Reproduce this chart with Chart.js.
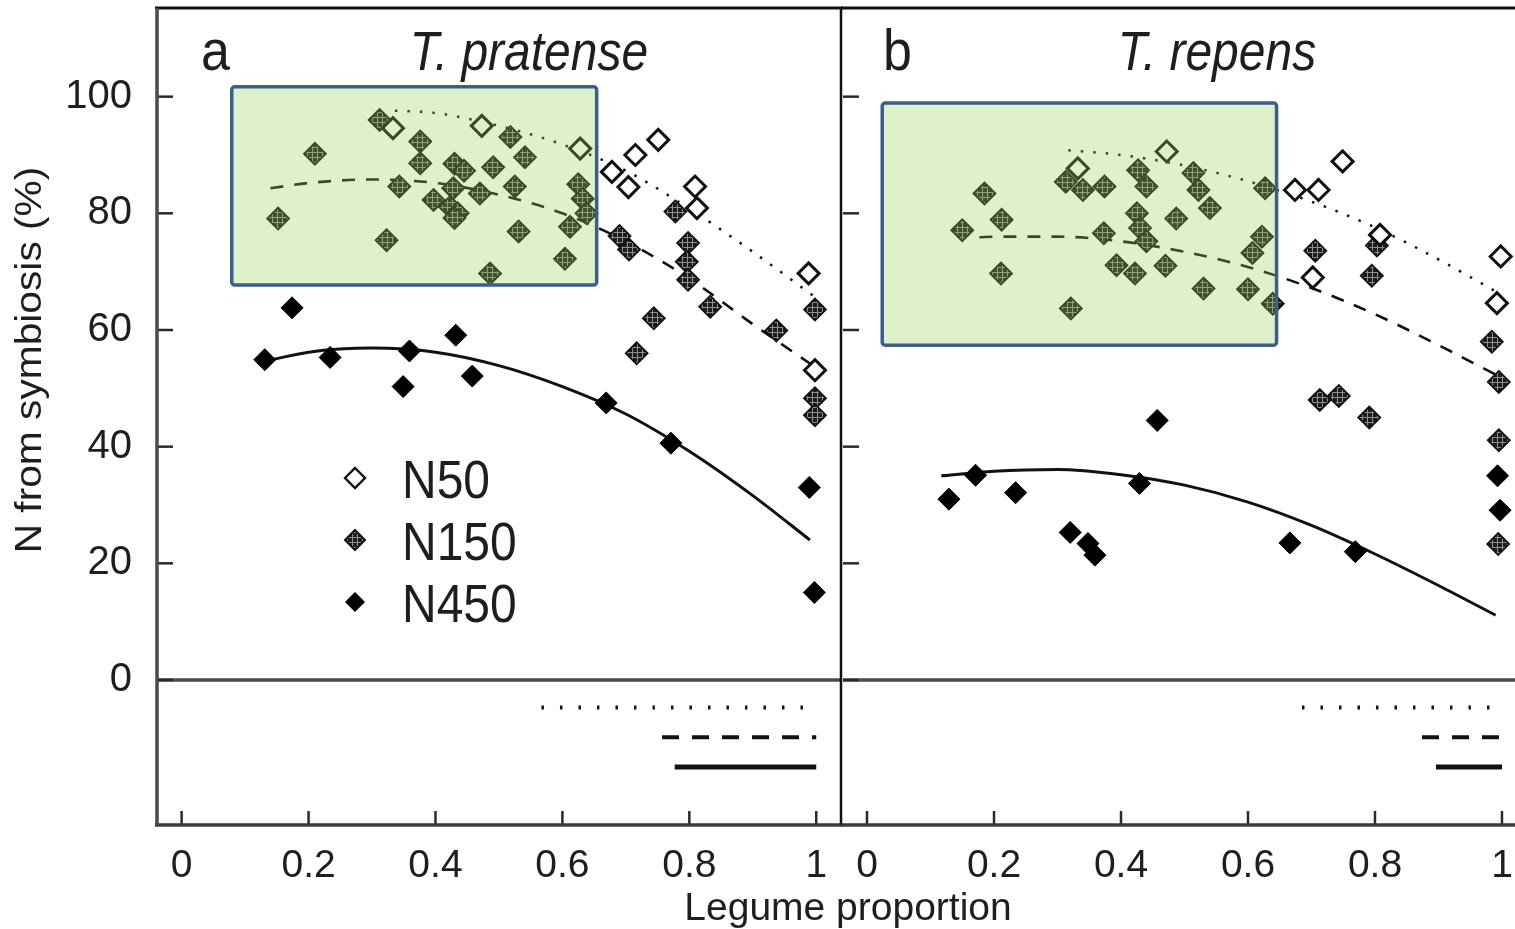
<!DOCTYPE html>
<html>
<head>
<meta charset="utf-8">
<title>N from symbiosis</title>
<script src="https://cdn.jsdelivr.net/npm/chart.js@4.4.1/dist/chart.umd.min.js"></script>
<style>
  html, body { margin: 0; padding: 0; background: #fff; overflow: hidden; }
  .layer { position: absolute; left: 0; top: 0; }
</style>
</head>
<body>
<div class="layer"><canvas id="chartA" width="1515" height="929"></canvas></div>
<div class="layer"><canvas id="chartB" width="1515" height="929"></canvas></div>
<script>
// axis ticks and series names
const xTicks = [0, 0.2, 0.4, 0.6, 0.8, 1];
const yTicks = [0, 20, 40, 60, 80, 100];
const seriesNames = ['N50', 'N150', 'N450'];

// panel a - T. pratense (legume proportion vs % N from symbiosis)
const aN50x = [0.333, 0.473, 0.628, 0.678, 0.704, 0.715, 0.751, 0.809, 0.812, 0.988, 0.998];
const aN50y = [94.6, 95.0, 91.1, 87.1, 84.5, 90.0, 92.6, 84.6, 80.9, 69.7, 53.1];
const aN150x = [0.152, 0.210, 0.312, 0.323, 0.343, 0.376, 0.376, 0.397, 0.423, 0.428, 0.430, 0.445, 0.435, 0.430, 0.470,
  0.491, 0.486, 0.518, 0.541, 0.525, 0.531, 0.604, 0.612, 0.625, 0.632, 0.638, 0.690, 0.705, 0.717, 0.744,
  0.778, 0.798, 0.796, 0.798, 0.833, 0.937, 0.998, 0.998, 0.998];
const aN150y = [79.1, 90.2, 96.0, 75.4, 84.6, 92.3, 88.6, 82.3, 81.1, 84.3, 88.5, 87.3, 80.0, 79.2, 83.4,
  87.9, 69.7, 93.1, 89.6, 84.6, 76.9, 72.2, 77.7, 85.0, 82.5, 80.0, 76.1, 73.8, 56.0, 62.0,
  80.3, 74.9, 71.7, 68.6, 64.0, 59.9, 63.5, 48.3, 45.4];
const aN450x = [0.131, 0.174, 0.234, 0.349, 0.359, 0.432, 0.458, 0.669, 0.771, 0.989, 0.997];
const aN450y = [54.9, 63.8, 55.3, 50.3, 56.4, 59.1, 52.1, 47.5, 40.6, 33.0, 15.0];
// fitted curves
const aFit50x = [0.336, 0.4, 0.5, 0.6, 0.7, 0.8, 0.9, 1.0];
const aFit50 = [97.6, 97.2, 95.0, 91.8, 87.3, 80.8, 73.4, 65.5];
const aFit150x = [0.14, 0.2, 0.3, 0.4, 0.5, 0.6, 0.7, 0.8, 0.9, 1.0];
const aFit150 = [84.3, 85.2, 85.8, 85.2, 83.2, 80.0, 75.2, 68.8, 61.0, 53.5];
const aFit450x = [0.13, 0.2, 0.3, 0.4, 0.5, 0.6, 0.7, 0.8, 0.9, 0.99];
const aFit450 = [54.6, 56.2, 56.9, 56.2, 53.9, 50.3, 45.6, 39.2, 31.6, 24.0];
// significance ranges (N50, N150, N450)
const aSigX = [[0.567, 1.0], [0.757, 1.0], [0.777, 1.0]];
// highlighted box [xmin, xmax, ymin, ymax]
const aBox = [0.079, 0.654, 67.7, 101.7];

// panel b - T. repens
const bN50x = [0.332, 0.472, 0.674, 0.711, 0.749, 0.702, 0.808, 0.998, 0.992];
const bN50y = [87.7, 90.6, 84.0, 84.0, 88.9, 69.0, 76.3, 72.6, 64.6];
const bN150x = [0.150, 0.185, 0.212, 0.211, 0.313, 0.321, 0.340, 0.374, 0.373, 0.393, 0.422, 0.427, 0.440, 0.425, 0.430,
  0.440, 0.470, 0.487, 0.514, 0.522, 0.540, 0.530, 0.600, 0.627, 0.622, 0.607, 0.639, 0.706, 0.795, 0.803,
  0.713, 0.743, 0.791, 0.984, 0.995, 0.995, 0.994];
const bN150y = [77.1, 83.4, 78.9, 69.7, 85.4, 63.7, 84.0, 84.6, 76.6, 71.1, 69.7, 87.4, 84.6, 80.0, 77.5,
  75.2, 71.0, 79.1, 86.9, 84.0, 80.9, 67.1, 67.0, 84.3, 76.0, 73.2, 64.5, 73.6, 69.3, 74.5,
  48.0, 48.7, 45.0, 58.0, 51.1, 41.1, 23.3];
const bN450x = [0.129, 0.171, 0.234, 0.320, 0.348, 0.359, 0.429, 0.457, 0.666, 0.769, 0.993, 0.997];
const bN450y = [31.0, 35.1, 32.1, 25.3, 23.4, 21.4, 33.7, 44.5, 23.5, 22.0, 35.0, 29.1];
const bFit50x = [0.317, 0.4, 0.5, 0.6, 0.7, 0.8, 0.9, 1.0];
const bFit50 = [90.8, 90.0, 88.2, 85.5, 82.0, 77.6, 72.1, 66.0];
const bFit150x = [0.177, 0.2, 0.3, 0.4, 0.5, 0.6, 0.7, 0.8, 0.9, 1.0];
const bFit150 = [75.9, 76.0, 76.0, 75.2, 73.4, 70.8, 67.2, 62.7, 57.4, 51.8];
const bFit450x = [0.117, 0.2, 0.3, 0.4, 0.5, 0.6, 0.7, 0.8, 0.9, 0.99];
const bFit450 = [35.0, 35.8, 36.1, 35.2, 33.4, 30.5, 26.5, 21.6, 16.2, 11.1];
const bSigX = [[0.685, 0.99], [0.874, 1.0], [0.896, 1.0]];
const bBox = [0.024, 0.645, 57.4, 98.9];

const sigY = [-4.7, -9.8, -14.9];

// ---- styling ----
const FONT = '"Liberation Sans", Arial, Helvetica, sans-serif';
const INK = '#1e1e1e';
const Y_MIN = -24.86, Y_MAX = 115.2;

function pts(xs, ys) {
  return xs.map((x, i) => ({ x: x, y: ys[i] }));
}

// dark cross-hatch fill used for the N150 markers
function makeHatch() {
  const c = document.createElement('canvas');
  c.width = 5; c.height = 5;
  const g = c.getContext('2d');
  g.fillStyle = '#1c1c1c';
  g.fillRect(0, 0, 5, 5);
  g.fillStyle = '#8f8f8f';
  g.fillRect(2, 0, 1, 5);
  g.fillRect(0, 2, 5, 1);
  return g.createPattern(c, 'repeat');
}
const HATCH = makeHatch();

function seg(ctx, x0, y0, x1, y1) {
  ctx.beginPath();
  ctx.moveTo(x0, y0);
  ctx.lineTo(x1, y1);
  ctx.stroke();
}

function diamond(ctx, x, y, r) {
  ctx.beginPath();
  ctx.moveTo(x - r, y);
  ctx.lineTo(x, y - r);
  ctx.lineTo(x + r, y);
  ctx.lineTo(x, y + r);
  ctx.closePath();
}

// the original figure is a bit taller than wide, so stretch text vertically
function stretched(ctx, txt, x, y, font, sy, align) {
  ctx.save();
  ctx.font = font;
  ctx.fillStyle = INK;
  ctx.textAlign = align || 'left';
  ctx.textBaseline = 'alphabetic';
  ctx.translate(x, y);
  ctx.scale(1, sy);
  ctx.fillText(txt, 0, 0);
  ctx.restore();
}

function fitLine(xs, ys, dash, width) {
  return {
    data: pts(xs, ys), showLine: true, pointRadius: 0, fill: false,
    borderColor: '#111', borderWidth: width, borderDash: dash,
    cubicInterpolationMode: 'monotone', order: 3
  };
}

const SIG_STYLE = [
  { dash: [2.5, 16], width: 4 },
  { dash: [17, 13], width: 4 },
  { dash: [], width: 5 }
];

function buildDatasets(p) {
  const sets = [
    { label: seriesNames[0], data: pts(p.n50x, p.n50y), pointStyle: 'rectRot', pointRadius: 10.5,
      pointBackgroundColor: '#fff', pointBorderColor: '#111', pointBorderWidth: 3, order: 0 },
    { label: seriesNames[1], data: pts(p.n150x, p.n150y), pointStyle: 'rectRot', pointRadius: 11,
      pointBackgroundColor: HATCH, pointBorderColor: '#111', pointBorderWidth: 1.8, order: 1 },
    { label: seriesNames[2], data: pts(p.n450x, p.n450y), pointStyle: 'rectRot', pointRadius: 11,
      pointBackgroundColor: '#000', pointBorderColor: '#000', pointBorderWidth: 1, order: 2 },
    fitLine(p.fit50x, p.fit50, [2.5, 10], 2.5),
    fitLine(p.fit150x, p.fit150, [13, 11], 2.6),
    fitLine(p.fit450x, p.fit450, [], 3)
  ];
  p.sigX.forEach((r, i) => {
    sets.push({
      data: [{ x: r[0], y: sigY[i] }, { x: r[1], y: sigY[i] }],
      showLine: true, pointRadius: 0, borderColor: '#111',
      borderWidth: SIG_STYLE[i].width, borderDash: SIG_STYLE[i].dash,
      borderCapStyle: 'butt', order: 4
    });
  });
  return sets;
}

// frame, inward ticks, zero line, highlight box and text for one panel
function panelPlugin(cfg) {
  return {
    id: 'panel_' + cfg.letter,
    beforeDatasetsDraw(chart) {
      const ctx = chart.ctx, ca = chart.chartArea;
      const x = chart.scales.x, y = chart.scales.y;
      ctx.save();
      ctx.lineCap = 'butt';
      // zero line
      const y0 = y.getPixelForValue(0);
      ctx.strokeStyle = '#4a4a4a';
      ctx.lineWidth = 3.5;
      seg(ctx, ca.left, y0, ca.right, y0);
      // ticks pointing into the plot
      ctx.strokeStyle = '#2a2a2a';
      ctx.lineWidth = 2.5;
      xTicks.forEach(v => {
        const px = x.getPixelForValue(v);
        seg(ctx, px, ca.bottom, px, ca.bottom - 14);
      });
      yTicks.forEach(v => {
        const py = y.getPixelForValue(v);
        seg(ctx, ca.left, py, ca.left + 16, py);
      });
      // frame
      ctx.strokeStyle = '#111';
      ctx.lineWidth = 3;
      seg(ctx, ca.left - 2, ca.top, ca.right + 2, ca.top);
      ctx.strokeStyle = '#3a3a3a';
      ctx.lineWidth = 3.5;
      seg(ctx, ca.left - 2, ca.bottom, ca.right + 2, ca.bottom);
      if (cfg.leftFrame) {
        ctx.strokeStyle = '#4a4a4a';
        ctx.lineWidth = 3.5;
        seg(ctx, ca.left, ca.top, ca.left, ca.bottom);
      }
      if (cfg.rightFrame) {
        ctx.strokeStyle = '#111';
        ctx.lineWidth = 2.5;
        seg(ctx, ca.right, ca.top, ca.right, ca.bottom);
      }
      ctx.restore();
    },
    afterDatasetsDraw(chart) {
      const ctx = chart.ctx;
      const x = chart.scales.x, y = chart.scales.y;
      const b = cfg.box;
      const x0 = x.getPixelForValue(b[0]), x1 = x.getPixelForValue(b[1]);
      const y1 = y.getPixelForValue(b[2]), y0 = y.getPixelForValue(b[3]);
      ctx.save();
      ctx.beginPath();
      if (ctx.roundRect) ctx.roundRect(x0, y0, x1 - x0, y1 - y0, 3);
      else ctx.rect(x0, y0, x1 - x0, y1 - y0);
      ctx.fillStyle = 'rgba(146, 208, 80, 0.30)';
      ctx.fill();
      ctx.strokeStyle = '#3a5f8b';
      ctx.lineWidth = 3.5;
      ctx.stroke();
      ctx.restore();
    },
    afterDraw(chart) {
      const ctx = chart.ctx, ca = chart.chartArea;
      stretched(ctx, cfg.letter, cfg.letterX, ca.top + 62, '52px ' + FONT, 1.12, 'left');
      stretched(ctx, cfg.title, cfg.titleX, ca.top + 62, 'italic 48px ' + FONT, 1.15, 'center');
      if (cfg.legend) {
        // legend inside panel a
        const rows = [478, 540, 602];
        seriesNames.forEach((name, i) => {
          ctx.save();
          diamond(ctx, 355, rows[i], 10);
          if (i === 0) {
            ctx.fillStyle = '#fff'; ctx.fill();
            ctx.strokeStyle = '#111'; ctx.lineWidth = 2.4; ctx.stroke();
          } else if (i === 1) {
            ctx.fillStyle = HATCH; ctx.fill();
            ctx.strokeStyle = '#111'; ctx.lineWidth = 2; ctx.stroke();
          } else {
            ctx.fillStyle = '#000'; ctx.fill();
          }
          ctx.restore();
          stretched(ctx, name, 402, rows[i] + 20, '48px ' + FONT, 1.12, 'left');
        });
        // y axis title
        ctx.save();
        ctx.font = '37px ' + FONT;
        ctx.fillStyle = INK;
        ctx.textAlign = 'center';
        ctx.textBaseline = 'alphabetic';
        ctx.translate(41, 360);
        ctx.rotate(-Math.PI / 2);
        ctx.scale(1.1, 1);
        ctx.fillText('N from symbiosis (%)', 0, 0);
        ctx.restore();
        // shared x axis title
        stretched(ctx, 'Legume proportion', 848, 920, '39px ' + FONT, 1.0, 'center');
      }
    }
  };
}

// keep the plot area exactly where the layout padding puts it
function noAutoPad(s) {
  s.paddingLeft = 0;
  s.paddingRight = 0;
  s.paddingTop = 0;
  s.paddingBottom = 0;
}

function makeChart(id, p, cfg) {
  return new Chart(document.getElementById(id), {
    type: 'scatter',
    data: { datasets: buildDatasets(p) },
    options: {
      responsive: false,
      animation: false,
      events: [],
      layout: { padding: cfg.padding, autoPadding: false },
      plugins: { legend: { display: false }, tooltip: { enabled: false } },
      scales: {
        x: {
          type: 'linear', min: cfg.xRange[0], max: cfg.xRange[1],
          afterBuildTicks: s => { s.ticks = xTicks.map(v => ({ value: v })); },
          afterFit: s => { s.height = 104; noAutoPad(s); },
          grid: { display: false },
          border: { display: false },
          ticks: {
            autoSkip: false, maxRotation: 0, padding: 10, color: INK,
            font: { family: FONT, size: 39 },
            callback: v => String(v)
          }
        },
        y: {
          type: 'linear', min: Y_MIN, max: Y_MAX,
          afterBuildTicks: s => { s.ticks = yTicks.map(v => ({ value: v })); },
          afterFit: s => { s.width = cfg.yWidth; noAutoPad(s); },
          grid: { display: false },
          border: { display: false },
          ticks: {
            display: cfg.yLabels, padding: 17, color: INK,
            font: { family: FONT, size: 40 }
          }
        }
      }
    },
    plugins: [panelPlugin(cfg)]
  });
}

makeChart('chartA', {
  n50x: aN50x, n50y: aN50y, n150x: aN150x, n150y: aN150y, n450x: aN450x, n450y: aN450y,
  fit50x: aFit50x, fit50: aFit50, fit150x: aFit150x, fit150: aFit150, fit450x: aFit450x, fit450: aFit450,
  sigX: aSigX
}, {
  letter: 'a', letterX: 201, title: 'T. pratense', titleX: 529, box: aBox,
  legend: true, leftFrame: true, rightFrame: true, yLabels: true, yWidth: 157,
  xRange: [-0.0388, 1.039],
  padding: { left: 0, top: 8, right: 674, bottom: 0 }
});

// panel b is cut off at the right edge of the figure
makeChart('chartB', {
  n50x: bN50x, n50y: bN50y, n150x: bN150x, n150y: bN150y, n450x: bN450x, n450y: bN450y,
  fit50x: bFit50x, fit50: bFit50, fit150x: bFit150x, fit150: bFit150, fit450x: bFit450x, fit450: bFit450,
  sigX: bSigX
}, {
  letter: 'b', letterX: 883, title: 'T. repens', titleX: 1217, box: bBox,
  legend: false, leftFrame: false, rightFrame: false, yLabels: false, yWidth: 1,
  xRange: [-0.0378, 1.0205],
  padding: { left: 842, top: 8, right: 0, bottom: 0 }
});
</script>
</body>
</html>
